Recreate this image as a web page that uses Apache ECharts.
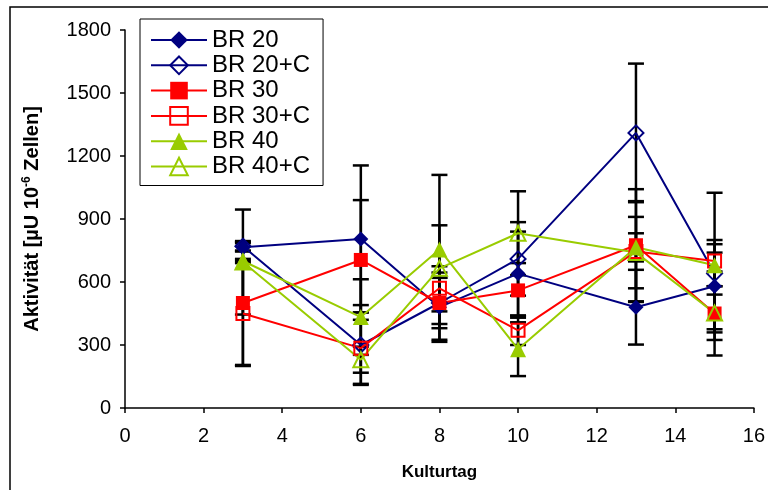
<!DOCTYPE html>
<html>
<head>
<meta charset="utf-8">
<script src="https://cdn.jsdelivr.net/npm/echarts@6/dist/echarts.min.js"></script>
<style>
  html, body { margin: 0; padding: 0; background: #fff; }
  #chart { width: 768px; height: 490px; }
</style>
</head>
<body>
<div id="chart"></div>
<script>
// Culture days (x positions)
const days = [3, 6, 8, 10, 13, 15];

// Mean activity per series
const br20   = [765, 805, 480, 640, 480, 580];
const br20c  = [770, 300, 500, 710, 1310, 640];
const br30   = [500, 705, 500, 560, 775, 450];
const br30c  = [450, 285, 570, 370, 745, 700];
const br40   = [700, 433, 755, 280, 765, 680];
const br40c  = [695, 230, 665, 832, 740, 452];

// Symmetric error (± value) per series
const err20  = [20, 350, 165, 200, 178, 220];
const err20c = [20, 190, 120, 175, 330, 100];
const err30  = [295, 285, 175, 130, 267, 200];
const err30c = [250, 170, 50, 70, 240, 325];
const err40  = [10, 180, 355, 128, 67, 100];
const err40c = [250, 62, 205, 200, 170, 128];

const yTicks = [0, 300, 600, 900, 1200, 1500, 1800];

const NAVY = '#000080', RED = '#ff0000', GREEN = '#99cc00';

const seriesDefs = [
  { name: 'BR 20',   values: br20,  errors: err20,  color: NAVY,  symbol: 'diamond',  size: 15, hollow: false },
  { name: 'BR 20+C', values: br20c, errors: err20c, color: NAVY,  symbol: 'diamond',  size: 15, hollow: true },
  { name: 'BR 30',   values: br30,  errors: err30,  color: RED,   symbol: 'rect',     size: 14, hollow: false },
  { name: 'BR 30+C', values: br30c, errors: err30c, color: RED,   symbol: 'rect',     size: 13, hollow: true },
  { name: 'BR 40',   values: br40,  errors: err40,  color: GREEN, symbol: 'triangle', size: 16, hollow: false },
  { name: 'BR 40+C', values: br40c, errors: err40c, color: GREEN, symbol: 'triangle', size: 15, hollow: true }
];

// Error bar data: [x, low, high]
const errorData = [];
seriesDefs.forEach(s => {
  s.values.forEach((v, i) => {
    errorData.push([days[i], v - s.errors[i], v + s.errors[i]]);
  });
});

function renderErrorBar(params, api) {
  const x = api.value(0);
  const lo = api.coord([x, api.value(1)]);
  const hi = api.coord([x, api.value(2)]);
  const half = 8;
  const style = { stroke: '#000', lineWidth: 2.5, fill: null };
  return {
    type: 'group',
    children: [
      { type: 'line', shape: { x1: lo[0], y1: lo[1], x2: hi[0], y2: hi[1] }, style: style },
      { type: 'line', shape: { x1: hi[0] - half, y1: hi[1], x2: hi[0] + half, y2: hi[1] }, style: style },
      { type: 'line', shape: { x1: lo[0] - half, y1: lo[1], x2: lo[0] + half, y2: lo[1] }, style: style }
    ]
  };
}

const lineSeries = seriesDefs.map(s => ({
  name: s.name,
  type: 'line',
  data: s.values.map((v, i) => [days[i], v]),
  symbol: s.symbol,
  symbolSize: s.size,
  z: 3,
  lineStyle: { color: s.color, width: 2 },
  itemStyle: s.hollow
    ? { color: 'rgba(255,255,255,0)', borderColor: s.color, borderWidth: 2 }
    : { color: s.color, borderColor: s.color, borderWidth: 0 },
  emphasis: { disabled: true },
  animation: false
}));

const chart = echarts.init(document.getElementById('chart'), null, { renderer: 'canvas' });

chart.setOption({
  animation: false,
  backgroundColor: '#fff',
  textStyle: { fontFamily: 'Liberation Sans, Arial, sans-serif', color: '#000' },
  graphic: [{
    type: 'rect',
    shape: { x: 10, y: 7, width: 800, height: 520 },
    style: { fill: null, stroke: '#000', lineWidth: 1.5 },
    z: -1,
    silent: true
  }],
  grid: { left: 125, right: 8, top: 30, bottom: 82, containLabel: false },
  legend: {
    orient: 'vertical',
    left: 140,
    top: 19,
    padding: [9, 13, 7, 10],
    backgroundColor: '#fff',
    borderColor: '#000',
    borderWidth: 1,
    borderRadius: 0,
    itemWidth: 56,
    itemHeight: 22,
    itemGap: 1.3,
    textStyle: { fontSize: 24, color: '#000', fontFamily: 'Liberation Sans, Arial, sans-serif' },
    data: seriesDefs.map(s => s.name)
  },
  xAxis: {
    type: 'value',
    min: 0,
    max: 16,
    interval: 2,
    name: 'Kulturtag',
    nameLocation: 'middle',
    nameGap: 56,
    nameTextStyle: { fontSize: 17, fontWeight: 'bold', color: '#000' },
    axisLine: { lineStyle: { color: '#000', width: 1.5 } },
    axisTick: { show: true, length: 5, lineStyle: { color: '#000', width: 1.5 } },
    axisLabel: { fontSize: 20, color: '#000', margin: 18, showMaxLabel: true },
    splitLine: { show: false }
  },
  yAxis: {
    type: 'value',
    min: yTicks[0],
    max: yTicks[yTicks.length - 1],
    interval: yTicks[1] - yTicks[0],
    name: 'Aktivität [µU 10{sup|-6} Zellen]',
    nameLocation: 'middle',
    nameGap: 82,
    nameTextStyle: {
      fontSize: 20, fontWeight: 'bold', color: '#000',
      rich: { sup: { fontSize: 12, fontWeight: 'bold', color: '#000', padding: [0, 0, 10, 0] } }
    },
    axisLine: { show: true, lineStyle: { color: '#000', width: 1.5 } },
    axisTick: { show: true, length: 5, lineStyle: { color: '#000', width: 1.5 } },
    axisLabel: { fontSize: 20, color: '#000', margin: 14, formatter: v => String(v) },
    splitLine: { show: false }
  },
  series: [{
    type: 'custom',
    name: 'errors',
    renderItem: renderErrorBar,
    data: errorData,
    encode: { x: 0, y: [1, 2] },
    z: 1,
    silent: true
  }].concat(lineSeries)
});
</script>
</body>
</html>
